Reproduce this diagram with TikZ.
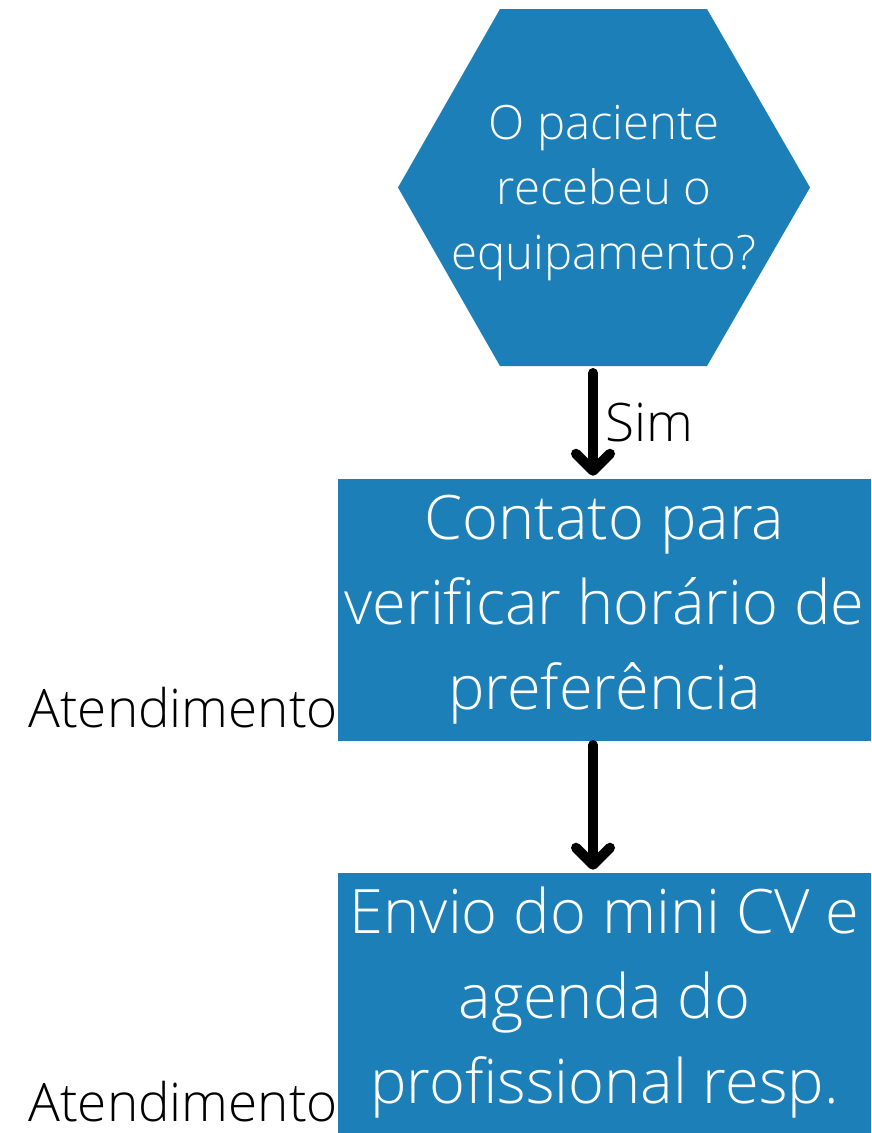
\documentclass[tikz,border=0pt]{standalone}
\usepackage{fontspec}
\setmainfont{Open Sans}[UprightFont=* Light]
\usetikzlibrary{arrows.meta}
\definecolor{boxblue}{RGB}{28,127,183}
\tikzset{
  flowbox/.style={fill=boxblue, draw=none, minimum width=533*0.75pt, minimum height=262*0.75pt, inner sep=0pt, text=white, align=center, font=\fontsize{46}{63.75}\selectfont},
  hextext/.style={text=white, align=center, inner sep=0pt, font=\fontsize{35.5}{48.75}\selectfont},
  sidelabel/.style={text=black, inner sep=0pt, anchor=base west, font=\fontsize{39.8}{48}\selectfont},
  flowarrow/.style={line width=10*0.75pt, line cap=round, -{Straight Barb[round, length=17*0.75pt, width=34*0.75pt]}},
}
\begin{document}
\begin{tikzpicture}[x=0.75pt, y=-0.75pt]
\useasboundingbox (0,0) rectangle (872,1133);
% hexagon
\fill[boxblue] (500,9) -- (707,9) -- (810,187.5) -- (707,366) -- (500,366) -- (398,187.5) -- cycle;
\node[hextext] (hex) at (604,193) {O paciente\\recebeu o\\equipamento?};
\coordinate (a1s) at (593,373);
% boxes
\node[flowbox] (box1) at (604.5,610) {Contato para\\verificar horário de\\preferência};
\node[flowbox, minimum height=260*0.75pt] (box2) at (604.5,1003) {Envio do mini CV e\\agenda do\\profissional resp.};
% arrows
\draw[flowarrow] (a1s) -- ([yshift=3*0.75pt]box1.north -| a1s);
\node[sidelabel] (sim) at (605,441) {Sim};
\coordinate (a2s) at (593,745);
\draw[flowarrow] (a2s) -- ([yshift=3*0.75pt]box2.north -| a2s);
% side labels
\node[sidelabel] (at1) at (28,727) {Atendimento};
\node[sidelabel] (at2) at (28,1121) {Atendimento};
\end{tikzpicture}
\end{document}
